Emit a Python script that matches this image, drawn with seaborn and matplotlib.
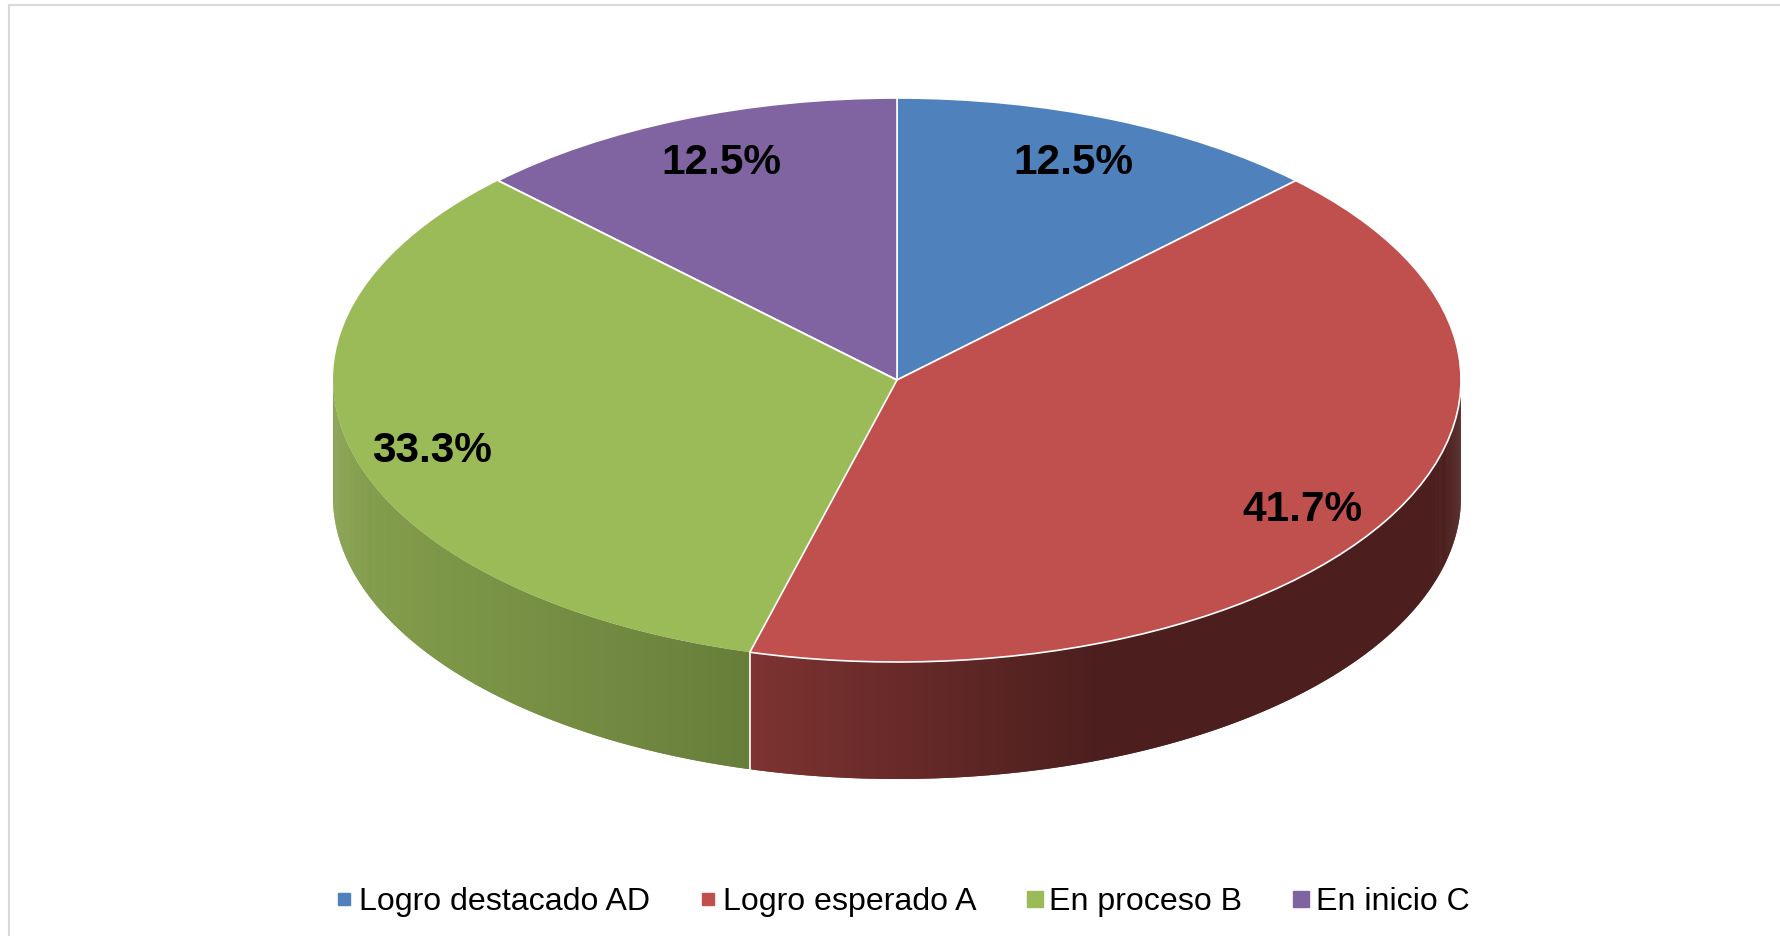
import numpy as np
import seaborn as sns
import matplotlib.pyplot as plt
from matplotlib.colors import to_rgb
from matplotlib.lines import Line2D

categories = ["Logro destacado AD", "Logro esperado A", "En proceso B", "En inicio C"]
values = [12.5, 41.7, 33.3, 12.5]
colors = ["#4f81bd", "#c0504d", "#9bbb59", "#8064a2"]
legend_sizes = [8, 8, 12, 12]
# label shift in pixels from where autopct puts them
label_shift = [(-7, 4), (-9, 10), (-2, 9), (8, 4)]

W, H = 1780, 936
cx, cy, rx, ry, depth = 897, 380, 564, 282, 117

sns.set_theme(style="white")
plt.rcParams["font.family"] = ["Liberation Sans", "DejaVu Sans"]

fig = plt.figure(figsize=(W / 100, H / 100), dpi=100, facecolor="white")

# grey frame, only top and left show in the original
bg = fig.add_axes([9 / W, 0, 1 - 9 / W, 1 - 5 / H])
bg.set_xticks([])
bg.set_yticks([])
sns.despine(ax=bg, top=False, right=True, bottom=True)
for s in ["left", "top"]:
    bg.spines[s].set_color("#d9d9d9")
    bg.spines[s].set_linewidth(1.5)

ax = fig.add_axes([0, 0, 1, 1])
ax.patch.set_alpha(0)

wedges, texts, autotexts = ax.pie(
    values, colors=colors, startangle=90, counterclock=False,
    autopct="%.1f%%", pctdistance=0.85,
    wedgeprops={"edgecolor": "white", "linewidth": 1.2},
    textprops={"fontsize": 30.5, "fontweight": "bold", "color": "black"},
)
ax.set_aspect("auto")
ax.set_xlim(-cx / rx, (W - cx) / rx)
ax.set_ylim((cy - H) / ry, cy / ry)

for w in wedges:
    w.set_zorder(3)
# green has no white rim on the outer arc
wedges[2].set_edgecolor("none")
wedges[2].set_zorder(2)

for t, (dx, dy) in zip(autotexts, label_shift):
    x, y = t.get_position()
    t.set_position((x + dx / rx, y - dy / ry))

# side wall, overlapping strips so the shading runs left to right without seams
edges = np.cumsum([0] + values) / sum(values) * 360
d = depth / ry
wall_stops = {
    1: (-0.26, 0.35, "#7d3331", "#4c1f1e"),
    2: (-1.0, -0.26, "#85a04d", "#677e3a"),
}
for i, (x0, x1, c0, c1) in wall_stops.items():
    a = max(edges[i], 90)
    b = min(edges[i + 1], 270)
    t = np.radians(np.linspace(a, b, 500))
    x = np.sin(t)
    y = np.cos(t)
    c0 = np.array(to_rgb(c0))
    c1 = np.array(to_rgb(c1))
    for j in range(len(t) - 2):
        f = np.clip((x[j] - x0) / (x1 - x0), 0, 1)
        col = c0 + (c1 - c0) * f
        ax.fill(np.r_[x[j:j + 3], x[j:j + 3][::-1]],
                np.r_[y[j:j + 3], (y[j:j + 3] - d)[::-1]],
                color=col, linewidth=0, zorder=1)

# white seams the wedges do not give
t = np.radians(edges[2])
ax.plot([np.sin(t)] * 2, [np.cos(t), np.cos(t) - d], color="white", lw=1.2, zorder=4)
t = np.radians(edges[3])
ax.plot([0, np.sin(t)], [0, np.cos(t)], color="white", lw=1.2, zorder=4)

handles = [Line2D([], [], marker="s", linestyle="", color=c, markersize=s)
           for c, s in zip(colors, legend_sizes)]
fig.legend(handles, categories, loc="center", bbox_to_anchor=(901 / W, 1 - 902 / H),
           ncol=4, frameon=False, fontsize=23.1, labelcolor="black", handlelength=0.7,
           handletextpad=0.11, columnspacing=1.47, borderpad=0)

fig.savefig("out.png", dpi=100)
